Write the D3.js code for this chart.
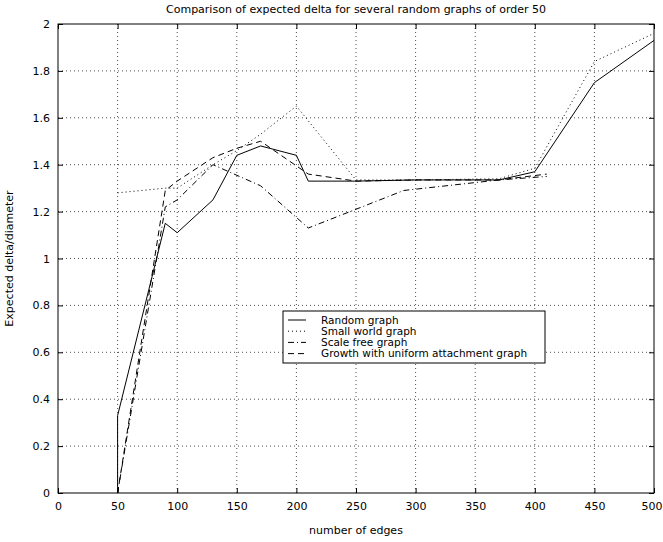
<!DOCTYPE html>
<html>
<head>
<meta charset="utf-8">
<script src="https://cdn.jsdelivr.net/npm/d3@7"></script>
<style>
  body { margin: 0; background: #fff; }
  svg { display: block; }
</style>
</head>
<body>
<svg id="chart"></svg>
<script>
const xTicks = [0, 50, 100, 150, 200, 250, 300, 350, 400, 450, 500];
const yTicks = [0, 0.2, 0.4, 0.6, 0.8, 1, 1.2, 1.4, 1.6, 1.8, 2];

const randomEdges = [50, 50, 90, 100, 130, 150, 170, 200, 210, 250, 300, 370, 400, 450, 500];
const randomDelta = [0, 0.33, 1.15, 1.11, 1.25, 1.44, 1.48, 1.44, 1.33, 1.33, 1.335, 1.335, 1.37, 1.75, 1.93];

const smallWorldEdges = [50, 90, 100, 130, 150, 170, 200, 250, 300, 370, 400, 450, 500];
const smallWorldDelta = [1.28, 1.30, 1.30, 1.40, 1.46, 1.53, 1.65, 1.335, 1.335, 1.34, 1.385, 1.84, 1.96];

const scaleFreeEdges = [50, 90, 100, 130, 170, 210, 290, 370, 410];
const scaleFreeDelta = [0, 1.22, 1.25, 1.40, 1.31, 1.13, 1.29, 1.335, 1.35];

const growthEdges = [50, 90, 100, 130, 150, 170, 210, 250, 300, 370, 410];
const growthDelta = [0, 1.29, 1.33, 1.43, 1.47, 1.50, 1.36, 1.33, 1.335, 1.335, 1.36];

const seriesNames = ['Random graph', 'Small world graph', 'Scale free graph', 'Growth with uniform attachment graph'];
const dashes = [null, '1,3', '6,3,1,3', '6,4'];

const series = [
  [randomEdges, randomDelta],
  [smallWorldEdges, smallWorldDelta],
  [scaleFreeEdges, scaleFreeDelta],
  [growthEdges, growthDelta],
].map(([xs, ys], i) => ({ name: seriesNames[i], dash: dashes[i], points: xs.map((x, j) => [x, ys[j]]) }));

const totalW = 663;
const totalH = 542;
const margin = { top: 24, right: 9, bottom: 49, left: 58 };
const width = totalW - margin.left - margin.right;
const height = totalH - margin.top - margin.bottom;
const font = '"DejaVu Sans", sans-serif';
const fontSize = '11px';

const svg = d3.select('#chart')
  .attr('width', totalW)
  .attr('height', totalH)
  .style('font-family', font);

const g = svg.append('g')
  .attr('transform', `translate(${margin.left},${margin.top})`);

const xScale = d3.scaleLinear().domain([0, 500]).range([0, width]);
const yScale = d3.scaleLinear().domain([0, 2]).range([height, 0]);

// dotted grid
g.append('g')
  .selectAll('line')
  .data(xTicks.slice(1, -1))
  .enter().append('line')
  .attr('x1', d => xScale(d)).attr('x2', d => xScale(d))
  .attr('y1', 0).attr('y2', height)
  .attr('stroke', '#000')
  .attr('stroke-width', 0.7)
  .attr('stroke-dasharray', '1,3');

g.append('g')
  .selectAll('line')
  .data(yTicks.slice(1, -1))
  .enter().append('line')
  .attr('y1', d => yScale(d)).attr('y2', d => yScale(d))
  .attr('x1', 0).attr('x2', width)
  .attr('stroke', '#000')
  .attr('stroke-width', 0.7)
  .attr('stroke-dasharray', '1,3');

// axes, ticks pointing inward like matlab
const xAxis = d3.axisBottom(xScale).tickValues(xTicks).tickSizeInner(-5).tickSizeOuter(0).tickPadding(9);
const yAxis = d3.axisLeft(yScale).tickValues(yTicks).tickSizeInner(-5).tickSizeOuter(0).tickPadding(8)
  .tickFormat(d3.format('~g'));

const xAxisG = g.append('g')
  .attr('transform', `translate(0,${height})`)
  .call(xAxis);

g.append('g')
  .call(yAxis);

g.append('g')
  .call(d3.axisTop(xScale).tickValues(xTicks).tickSizeInner(-5).tickSizeOuter(0).tickFormat(''));

g.append('g')
  .attr('transform', `translate(${width},0)`)
  .call(d3.axisRight(yScale).tickValues(yTicks).tickSizeInner(-5).tickSizeOuter(0).tickFormat(''));

g.selectAll('.domain').remove();
g.selectAll('.tick line').attr('stroke', '#000');
g.selectAll('.tick text')
  .attr('fill', '#000')
  .style('font-family', font)
  .style('font-size', fontSize);

// last label sits against the page edge; keep it inside
xAxisG.selectAll('.tick text')
  .filter(d => d === 500)
  .attr('text-anchor', 'end')
  .attr('x', 8);

g.append('rect')
  .attr('width', width)
  .attr('height', height)
  .attr('fill', 'none')
  .attr('stroke', '#000')
  .attr('stroke-width', 1);

const line = d3.line()
  .x(d => xScale(d[0]))
  .y(d => yScale(d[1]));

g.append('g')
  .selectAll('path')
  .data(series)
  .enter().append('path')
  .attr('d', d => line(d.points))
  .attr('fill', 'none')
  .attr('stroke', '#000')
  .attr('stroke-width', 1)
  .attr('stroke-dasharray', d => d.dash);

// titles
svg.append('text')
  .attr('x', margin.left + width / 2)
  .attr('y', 13)
  .attr('text-anchor', 'middle')
  .style('font-size', fontSize)
  .text('Comparison of expected delta for several random graphs of order 50');

svg.append('text')
  .attr('x', margin.left + width / 2)
  .attr('y', 534)
  .attr('text-anchor', 'middle')
  .style('font-size', fontSize)
  .text('number of edges');

svg.append('text')
  .attr('transform', `translate(13,${margin.top + height / 2}) rotate(-90)`)
  .attr('text-anchor', 'middle')
  .style('font-size', fontSize)
  .text('Expected delta/diameter');

// legend
const legendX = 283;
const legendY = 311;
const rowH = 11.2;

const legend = svg.append('g')
  .attr('transform', `translate(${legendX},${legendY})`);

legend.append('rect')
  .attr('width', 262)
  .attr('height', 52)
  .attr('fill', '#fff')
  .attr('stroke', '#000')
  .attr('stroke-width', 1);

const rows = legend.selectAll('.row')
  .data(series)
  .enter().append('g')
  .attr('class', 'row')
  .attr('transform', (d, i) => `translate(0,${9 + i * rowH})`);

rows.append('line')
  .attr('x1', 5).attr('x2', 23)
  .attr('stroke', '#000')
  .attr('stroke-width', 1)
  .attr('stroke-dasharray', d => d.dash);

rows.append('text')
  .attr('x', 38)
  .attr('dy', '0.36em')
  .style('font-size', '10.5px')
  .text(d => d.name);
</script>
</body>
</html>
